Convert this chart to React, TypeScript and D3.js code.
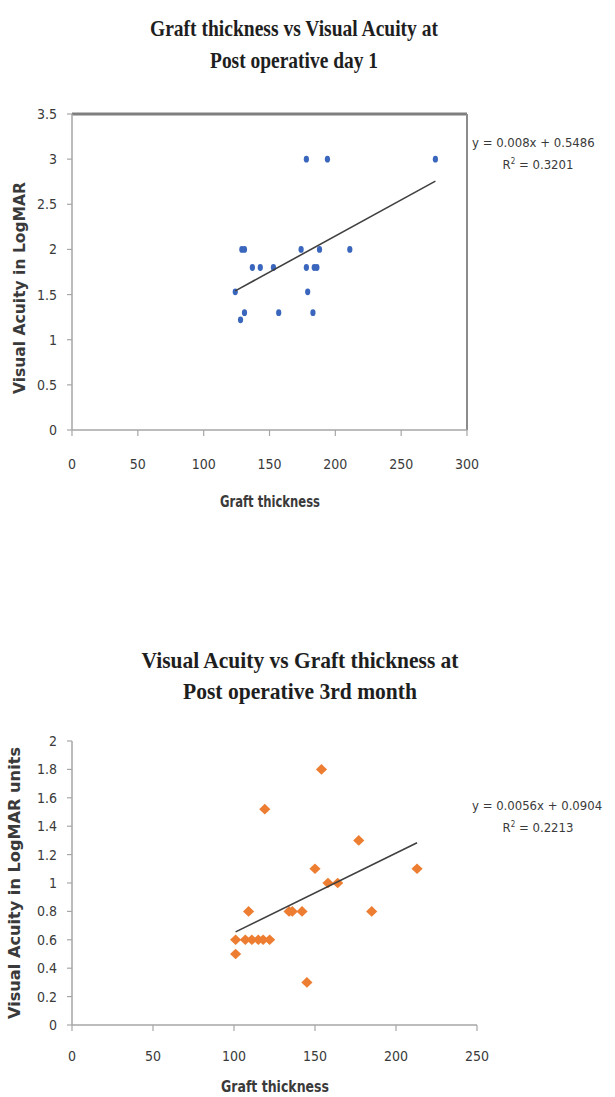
import React from 'react';
import * as d3 from 'd3';

// Post operative day 1
const day1Thickness = [178, 194, 276, 129, 131, 174, 188, 211, 137, 143, 153, 178, 184, 186, 124, 179, 131, 157, 183, 128];
const day1Acuity = [3, 3, 3, 2, 2, 2, 2, 2, 1.8, 1.8, 1.8, 1.8, 1.8, 1.8, 1.53, 1.53, 1.3, 1.3, 1.3, 1.22];
const day1XTicks = [0, 50, 100, 150, 200, 250, 300];
const day1YTicks = [0, 0.5, 1, 1.5, 2, 2.5, 3, 3.5];
const day1Fit = { slope: 0.008, intercept: 0.5486, eq: 'y = 0.008x + 0.5486', r2: '0.3201' };

// Post operative 3rd month
const month3Thickness = [154, 119, 177, 150, 213, 158, 164, 109, 134, 136, 142, 185, 101, 107, 111, 115, 118, 122, 101, 145];
const month3Acuity = [1.8, 1.52, 1.3, 1.1, 1.1, 1, 1, 0.8, 0.8, 0.8, 0.8, 0.8, 0.6, 0.6, 0.6, 0.6, 0.6, 0.6, 0.5, 0.3];
const month3XTicks = [0, 50, 100, 150, 200, 250];
const month3YTicks = [0, 0.2, 0.4, 0.6, 0.8, 1, 1.2, 1.4, 1.6, 1.8, 2];
const month3Fit = { slope: 0.0056, intercept: 0.0904, eq: 'y = 0.0056x + 0.0904', r2: '0.2213' };

const tickFont = "'DejaVu Sans', sans-serif";
const titleFont = "'Liberation Serif', 'DejaVu Serif', serif";
const narrow = { fontStretch: 'condensed' } as React.CSSProperties;

type PanelProps = {
  top: number;
  bottom: number;
  right: number;
  xs: number[];
  ys: number[];
  xTicks: number[];
  yTicks: number[];
  fit: { slope: number; intercept: number; eq: string; r2: string };
  title: string[];
  titleY: number[];
  titleLen: number[];
  titleSize: number;
  titleX: number;
  yLabel: string;
  yLabelY: number;
  yLabelX: number;
  yLabelLen: number;
  xLabelY: number;
  xLabelX: number;
  xLabelLen: number;
  tickLabelY: number;
  eqY: number;
  boxed: boolean;
  marker: 'dot' | 'diamond';
};

const Panel = (p: PanelProps) => {
  const left = 72;
  const x = d3.scaleLinear().domain([p.xTicks[0], p.xTicks[p.xTicks.length - 1]]).range([left, p.right]);
  const y = d3.scaleLinear().domain([p.yTicks[0], p.yTicks[p.yTicks.length - 1]]).range([p.bottom, p.top]);
  const [x0, x1] = d3.extent(p.xs) as [number, number];
  const line = d3.line<number>().x(d => x(d)).y(d => y(p.fit.slope * d + p.fit.intercept));
  const diamond = d3.symbol().type(d3.symbolDiamond2).size(72)() as string;
  const axisColor = '#a6a6a6';
  const textColor = '#3a3a3a';

  return (
    <g>
      {p.title.map((t, i) => (
        <text key={t} x={p.titleX} y={p.titleY[i]} textAnchor="middle" fontFamily={titleFont}
          fontWeight="bold" fontSize={p.titleSize} fill="#1e1e1e"
          textLength={p.titleLen[i]} lengthAdjust="spacingAndGlyphs">{t}</text>
      ))}

      {p.boxed && (
        <g>
          <line x1={left} x2={p.right} y1={p.top} y2={p.top} stroke="#7f7f7f" strokeWidth={3} />
          <line x1={p.right} x2={p.right} y1={p.top} y2={p.bottom} stroke="#8c8c8c" strokeWidth={2} />
        </g>
      )}

      {/* axes */}
      <line x1={left} x2={left} y1={p.top} y2={p.bottom} stroke={axisColor} strokeWidth={1.5} />
      <line x1={left} x2={p.right} y1={p.bottom} y2={p.bottom} stroke={axisColor} strokeWidth={1.5} />

      {p.yTicks.map(t => (
        <g key={'y' + t}>
          <line x1={left - 5} x2={left} y1={y(t)} y2={y(t)} stroke={axisColor} strokeWidth={1.2} />
          <text x={57} y={y(t)} dy="0.36em" textAnchor="end" fontFamily={tickFont} style={narrow}
            fontSize={14} fill={textColor}>{t}</text>
        </g>
      ))}
      {p.xTicks.map(t => (
        <g key={'x' + t}>
          <line x1={x(t)} x2={x(t)} y1={p.bottom} y2={p.bottom + 6} stroke={axisColor} strokeWidth={1.2} />
          <text x={x(t)} y={p.tickLabelY} textAnchor="middle" fontFamily={tickFont} style={narrow}
            fontSize={14} fill={textColor}>{t}</text>
        </g>
      ))}

      <text x={p.xLabelX} y={p.xLabelY} textAnchor="middle" fontFamily={tickFont} style={narrow} fontWeight="bold"
        fontSize={15} fill={textColor} textLength={p.xLabelLen} lengthAdjust="spacingAndGlyphs">Graft thickness</text>
      <text transform={`translate(${p.yLabelX},${p.yLabelY}) rotate(-90)`} textAnchor="middle"
        fontFamily={tickFont} style={narrow} fontWeight="bold" fontSize={15} fill={textColor}
        textLength={p.yLabelLen} lengthAdjust="spacingAndGlyphs">{p.yLabel}</text>

      {/* points */}
      {p.xs.map((v, i) => p.marker === 'dot' ? (
        <ellipse key={i} cx={x(v)} cy={y(p.ys[i])} rx={2.6} ry={3.4} fill="#3a66bd" />
      ) : (
        <path key={i} d={diamond} transform={`translate(${x(v)},${y(p.ys[i])}) scale(1.05,1)`} fill="#ed7d31" />
      ))}

      {/* trend line */}
      <path d={line([x0, x1]) as string} stroke="#404040" strokeWidth={1.6} fill="none" />

      <text x={472} y={p.eqY} fontFamily={tickFont} style={narrow} fontSize={13} fill={textColor}>{p.fit.eq}</text>
      <text x={538} y={p.eqY + 22} textAnchor="middle" fontFamily={tickFont} style={narrow} fontSize={13} fill={textColor}>
        R<tspan dy={-5} fontSize={8}>2</tspan><tspan dy={5}> = {p.fit.r2}</tspan>
      </text>
    </g>
  );
};

export default function App() {
  return (
    <svg width={615} height={1097} style={{ position: 'absolute', left: 0, top: 0, background: '#fff' }}>
      <rect width={615} height={1097} fill="#fff" />
      <Panel top={114} bottom={430} right={467} xs={day1Thickness} ys={day1Acuity}
        xTicks={day1XTicks} yTicks={day1YTicks} fit={day1Fit}
        title={['Graft thickness vs Visual Acuity at', 'Post operative day 1']}
        titleY={[36, 68]} titleLen={[288, 168]} titleSize={23} titleX={294}
        yLabel="Visual Acuity in LogMAR" yLabelY={288} yLabelX={25} yLabelLen={212}
        xLabelY={507} xLabelX={270} xLabelLen={100} tickLabelY={469} eqY={147} boxed marker="dot" />
      <Panel top={741} bottom={1025} right={477} xs={month3Thickness} ys={month3Acuity}
        xTicks={month3XTicks} yTicks={month3YTicks} fit={month3Fit}
        title={['Visual Acuity vs Graft thickness at', 'Post operative 3rd month']}
        titleY={[668, 699]} titleLen={[317, 234]} titleSize={24} titleX={300}
        yLabel="Visual Acuity in LogMAR units" yLabelY={883} yLabelX={20} yLabelLen={272}
        xLabelY={1092} xLabelX={275} xLabelLen={108} tickLabelY={1061} eqY={810} boxed={false} marker="diamond" />
    </svg>
  );
}
